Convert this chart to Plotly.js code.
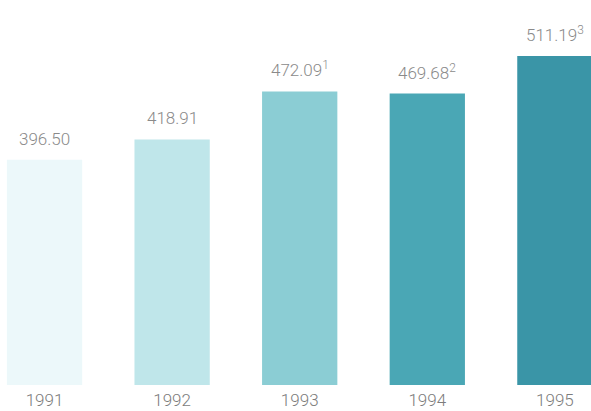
<!DOCTYPE html>
<html>
<head>
<meta charset="utf-8">
<script src="https://cdn.plot.ly/plotly-3.0.1.min.js"></script>
<style>html,body{margin:0;padding:0;background:#fff;}#chart{width:591px;height:411px;}</style>
</head>
<body>
<div id="chart"></div>
<script>
const years = ['1991', '1992', '1993', '1994', '1995'];
const values = [396.50, 418.91, 472.09, 469.68, 511.19];
const notes = ['', '', '1', '2', '3'];
const barColors = ['#ecf8fa', '#bfe6ea', '#8bcdd4', '#4aa7b5', '#3a95a7'];

const labelText = values.map((v, i) => v.toFixed(2) + (notes[i] ? '<sup>' + notes[i] + '</sup>' : ''));

const trace = {
  type: 'bar',
  x: years,
  y: values,
  width: 0.59,
  marker: {color: barColors, line: {width: 0}},
  hoverinfo: 'none'
};

const annotations = years.map((yr, i) => ({
  x: i,
  y: values[i],
  xref: 'x',
  yref: 'y',
  text: labelText[i],
  showarrow: false,
  xanchor: 'center',
  yanchor: 'bottom',
  yshift: 9,
  font: {family: 'Roboto, Liberation Sans, sans-serif', size: 17, weight: 300, color: '#8a8a8a'}
}));

const layout = {
  width: 591,
  height: 411,
  margin: {l: 0, r: 0, t: 0, b: 26, pad: 0},
  paper_bgcolor: '#ffffff',
  plot_bgcolor: '#ffffff',
  showlegend: false,
  xaxis: {
    type: 'category',
    range: [-0.349, 4.283],
    showgrid: false,
    zeroline: false,
    showline: false,
    ticks: '',
    ticklabelstandoff: 3,
    tickfont: {family: 'Roboto, Liberation Sans, sans-serif', size: 17, weight: 300, color: '#7c7c7c'},
    fixedrange: true
  },
  yaxis: {
    range: [146.9, 573.3],
    showticklabels: false,
    showgrid: false,
    zeroline: false,
    showline: false,
    ticks: '',
    fixedrange: true
  },
  annotations: annotations
};

Plotly.newPlot('chart', [trace], layout, {displayModeBar: false});
</script>
</body>
</html>
